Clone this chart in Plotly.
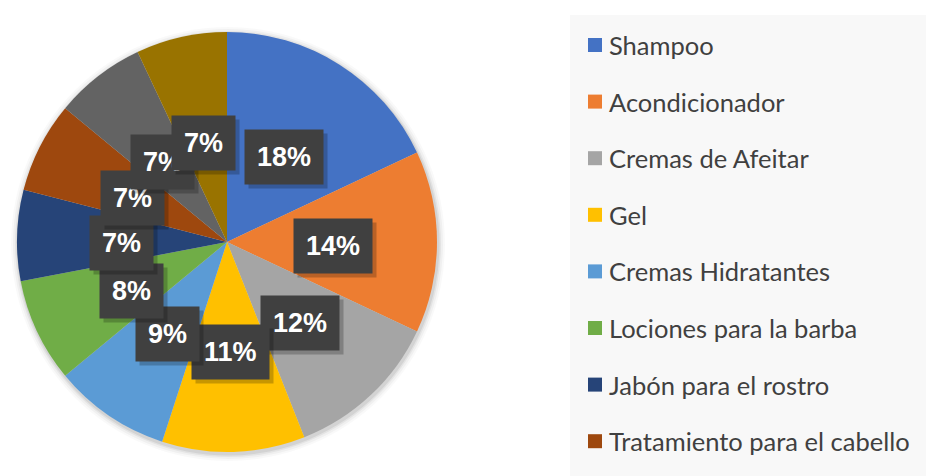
import numpy as np
import plotly.graph_objects as go

categories = ["Shampoo", "Acondicionador", "Cremas de Afeitar", "Gel", "Cremas Hidratantes",
              "Lociones para la barba", "Jabón para el rostro", "Tratamiento para el cabello",
              "Otros productos", "Accesorios"]
values = [18, 14, 12, 11, 9, 8, 7, 7, 7, 7]
colors = ["#4472C4", "#ED7D31", "#A5A5A5", "#FFC000", "#5B9BD5",
          "#70AD47", "#264478", "#9E480E", "#636363", "#997300"]

W, H = 940, 476
cx, cy, R = 227, 242, 210  # pie centre / radius in px (from top)

fig = go.Figure()

# soft shadow around the pie
for k, a in [(7, 0.025), (5, 0.035), (3, 0.05), (1.5, 0.07)]:
    fig.add_shape(type="circle", xref="paper", yref="paper", layer="below",
                  x0=(cx - R - k + 1) / W, x1=(cx + R + k + 1) / W,
                  y0=1 - (cy + R + k + 2) / H, y1=1 - (cy - R - k + 2) / H,
                  fillcolor=f"rgba(0,0,0,{a})", line=dict(width=0))

fig.add_trace(go.Pie(
    labels=categories, values=values, sort=False, direction="clockwise", rotation=0,
    marker=dict(colors=colors, line=dict(width=0)), textinfo="none", showlegend=False,
    domain=dict(x=[(cx - R) / W, (cx + R) / W], y=[1 - (cy + R) / H, 1 - (cy - R) / H]),
))

# data labels (percentages) placed at slice mid-angles
vals = np.array(values, dtype=float)
frac = vals / vals.sum()
cum = np.cumsum(frac) - frac / 2
rl = 106
lcx, lcy = cx, cy + 4
for f, c in zip(frac, cum):
    th = 2 * np.pi * c
    xp = lcx + rl * np.sin(th)
    yp = lcy - rl * np.cos(th)
    fig.add_annotation(x=(xp + 4) / W, y=1 - (yp + 4) / H, xref="paper", yref="paper",
                       xanchor="center", yanchor="middle",
                       text=f"<b>{round(f*100)}%</b>", showarrow=False,
                       font=dict(family="Liberation Sans", size=27, color="rgba(0,0,0,0)"),
                       bgcolor="rgba(0,0,0,0.22)", borderpad=12)
    fig.add_annotation(x=xp / W, y=1 - yp / H, xref="paper", yref="paper",
                       xanchor="center", yanchor="middle",
                       text=f"<b>{round(f*100)}%</b>", showarrow=False,
                       font=dict(family="Liberation Sans", size=27, color="white"),
                       bgcolor="#404040", borderpad=12)

# legend box
fig.add_shape(type="rect", xref="paper", yref="paper", x0=570 / W, x1=926 / W,
              y0=0, y1=1 - 15 / H, fillcolor="#F8F8F8", line=dict(width=0), layer="below")
for i, (name, col) in enumerate(zip(categories, colors)):
    yc = 45 + i * 56.6
    if yc > H:
        continue
    fig.add_shape(type="rect", xref="paper", yref="paper", x0=588 / W, x1=602 / W,
                  y0=1 - (yc + 7) / H, y1=1 - (yc - 7) / H, fillcolor=col, line=dict(width=0))
    fig.add_annotation(x=607 / W, y=1 - yc / H, xref="paper", yref="paper", text=name,
                       showarrow=False, xanchor="left", yanchor="middle",
                       font=dict(family="Lato", size=25.5, color="#404040"))

fig.update_layout(width=W, height=H, margin=dict(l=0, r=0, t=0, b=0),
                  paper_bgcolor="white", plot_bgcolor="white", showlegend=False)
fig.write_html("out.html", config={"displayModeBar": False},
               post_script="document.body.style.margin='0px';")
